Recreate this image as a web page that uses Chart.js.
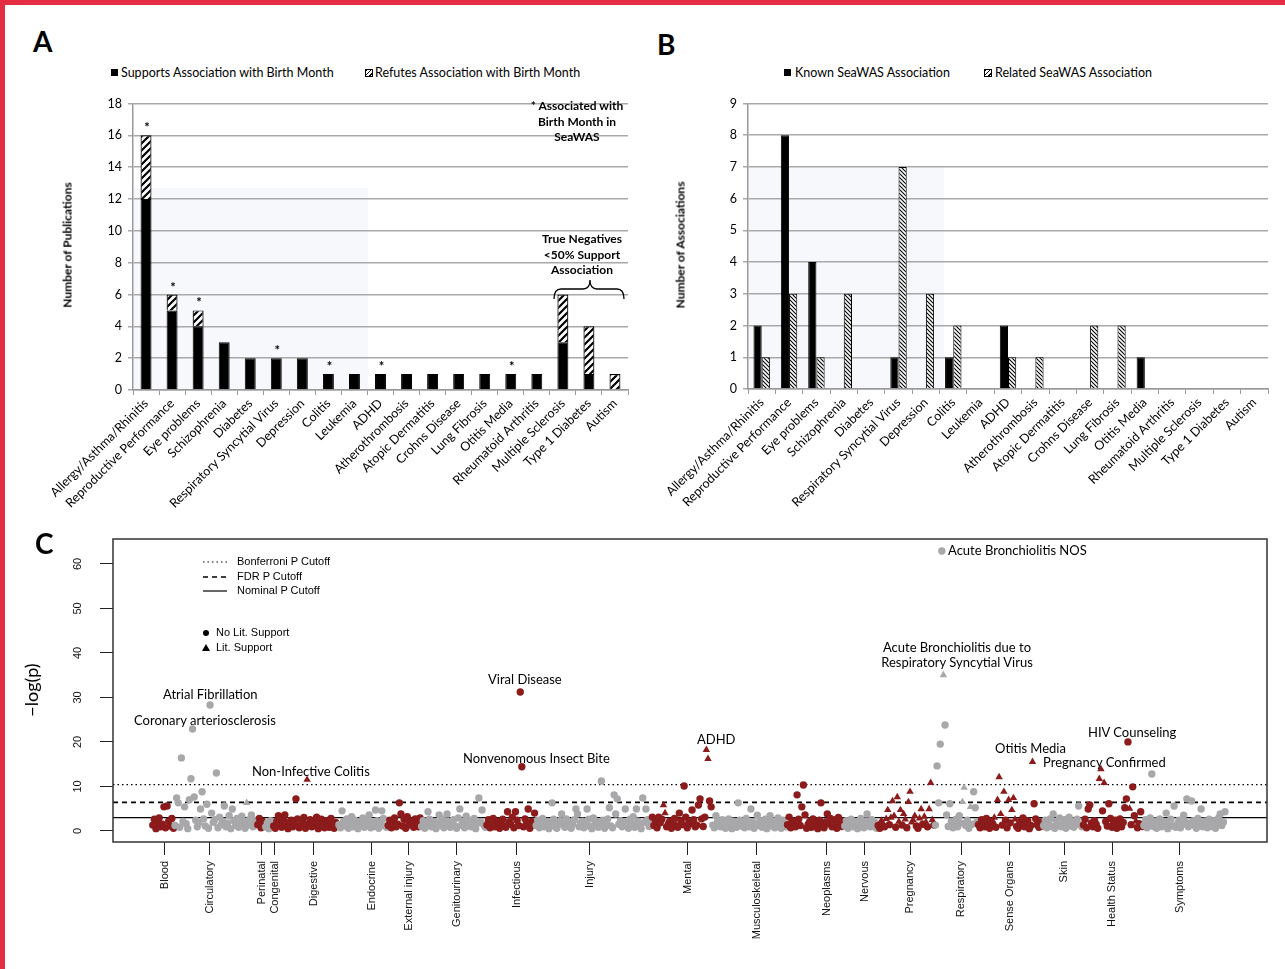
<!DOCTYPE html>
<html>
<head>
<meta charset="utf-8">
<script src="https://cdn.jsdelivr.net/npm/chart.js@4.4.1/dist/chart.umd.min.js"></script>
<style>
body { margin: 0; background: #fff; }
#page { position: relative; width: 1285px; height: 969px; overflow: hidden; background: #fff; font-family: Lato, sans-serif; }
.edgeTop { position: absolute; left: 0; top: 0; width: 1285px; height: 5px; background: #e42c42; }
.edgeLeft { position: absolute; left: 0; top: 0; width: 5px; height: 969px; background: #e42c42; }
canvas { position: absolute; }
.t { position: absolute; white-space: nowrap; color: #000; }
.tint { position: absolute; background: #f7f8fc; }
.panel { font: bold 28px Lato, sans-serif; line-height: 28px; }
.leg { font: 12.5px Lato, sans-serif; line-height: 14px; }
.sq { position: absolute; width: 7px; height: 7px; background: #000; }
.hq { position: absolute; width: 6px; height: 6px; border: 1px solid #000;
      background: repeating-linear-gradient(135deg, #000 0 1.2px, #fff 1.2px 3px); }
.ytitle { font: bold 12px Lato, sans-serif; transform: translate(-50%, -50%) rotate(-90deg); }
.note { font: bold 12px Lato, sans-serif; line-height: 15.5px; text-align: center; transform: translateX(-50%); }
.ann { font: 13px Lato, sans-serif; line-height: 15px; }
.cleg { font: 11px "Liberation Sans", Arial, sans-serif; line-height: 13px; }
</style>
</head>
<body>
<div id="page">
  <div class="edgeTop"></div>
  <div class="edgeLeft"></div>

  <!-- faint tint behind the excel plots -->
  <div class="tint" style="left:134px;top:188px;width:234px;height:202px"></div>
  <div class="tint" style="left:749px;top:167px;width:195px;height:222px"></div>

  <canvas id="chartA" width="620" height="430" style="left:20px;top:90px"></canvas>
  <canvas id="chartB" width="640" height="430" style="left:640px;top:90px"></canvas>
  <canvas id="chartC" width="1260" height="444" style="left:20px;top:525px"></canvas>

  <div class="t panel" style="left:33px;top:27px">A</div>
  <div class="t panel" style="left:657px;top:30px">B</div>
  <div class="t panel" style="left:35px;top:529px">C</div>

  <!-- legend A -->
  <div class="sq" style="left:111px;top:69px"></div>
  <div class="t leg" style="left:121px;top:66px">Supports Association with Birth Month</div>
  <div class="hq" style="left:365px;top:69px"></div>
  <div class="t leg" style="left:375px;top:66px">Refutes Association with Birth Month</div>

  <!-- legend B -->
  <div class="sq" style="left:784px;top:69px"></div>
  <div class="t leg" style="left:795px;top:66px">Known SeaWAS Association</div>
  <div class="hq" style="left:984px;top:69px"></div>
  <div class="t leg" style="left:995px;top:66px">Related SeaWAS Association</div>

  <div class="t ytitle" style="left:67px;top:245px">Number of Publications</div>
  <div class="t ytitle" style="left:680px;top:245px">Number of Associations</div>

  <div class="t note" style="left:577px;top:98px">* Associated with<br>Birth Month in<br>SeaWAS</div>
  <div class="t note" style="left:582px;top:231px">True Negatives<br>&lt;50% Support<br>Association</div>
  <svg style="position:absolute;left:0;top:0" width="1285" height="969">
    <path d="M554,299 Q554,289 561,289 L583,289 Q590,289 590,280 Q590,289 597,289 L617,289 Q624,289 624,299"
          fill="none" stroke="#000" stroke-width="1.3"/>
    <!-- panel C legend keys -->
    <line x1="203" y1="562" x2="227" y2="562" stroke="#000" stroke-width="1.2" stroke-dasharray="1.5 3"/>
    <line x1="203" y1="577" x2="227" y2="577" stroke="#000" stroke-width="1.5" stroke-dasharray="5 4"/>
    <line x1="203" y1="591" x2="227" y2="591" stroke="#000" stroke-width="1.2"/>
    <circle cx="206" cy="633" r="3" fill="#000"/>
    <polygon points="206,644 210,651 202,651" fill="#000"/>
  </svg>
  <div class="t cleg" style="left:237px;top:555px">Bonferroni P Cutoff</div>
  <div class="t cleg" style="left:237px;top:570px">FDR P Cutoff</div>
  <div class="t cleg" style="left:237px;top:584px">Nominal P Cutoff</div>
  <div class="t cleg" style="left:216px;top:626px">No Lit. Support</div>
  <div class="t cleg" style="left:216px;top:641px">Lit. Support</div>

  <div class="t" style="left:31px;top:690px;font:18px Lato,sans-serif;transform:translate(-50%,-50%) rotate(-90deg)">−log(p)</div>

  <div class="t ann" style="left:948px;top:543px">Acute Bronchiolitis NOS</div>
  <div class="t ann" style="left:957px;top:640px;text-align:center;transform:translateX(-50%)">Acute Bronchiolitis due to<br>Respiratory Syncytial Virus</div>
  <div class="t ann" style="left:163px;top:687px">Atrial Fibrillation</div>
  <div class="t ann" style="left:134px;top:713px">Coronary arteriosclerosis</div>
  <div class="t ann" style="left:252px;top:764px">Non-Infective Colitis</div>
  <div class="t ann" style="left:488px;top:672px">Viral Disease</div>
  <div class="t ann" style="left:463px;top:751px">Nonvenomous Insect Bite</div>
  <div class="t ann" style="left:697px;top:732px">ADHD</div>
  <div class="t ann" style="left:995px;top:741px">Otitis Media</div>
  <div class="t ann" style="left:1043px;top:755px">Pregnancy Confirmed</div>
  <div class="t ann" style="left:1088px;top:725px">HIV Counseling</div>
</div>

<script>
// ---------- panel A / B data ----------
const diseases = ['Allergy/Asthma/Rhinitis', 'Reproductive Performance', 'Eye problems', 'Schizophrenia',
  'Diabetes', 'Respiratory Syncytial Virus', 'Depression', 'Colitis', 'Leukemia', 'ADHD',
  'Atherothrombosis', 'Atopic Dermatitis', 'Crohns Disease', 'Lung Fibrosis', 'Otitis Media',
  'Rheumatoid Arthritis', 'Multiple Sclerosis', 'Type 1 Diabetes', 'Autism'];
const supportsA = [12, 5, 4, 3, 2, 2, 2, 1, 1, 1, 1, 1, 1, 1, 1, 1, 3, 1, 0];
const refutesA  = [4, 1, 1, 0, 0, 0, 0, 0, 0, 0, 0, 0, 0, 0, 0, 0, 3, 3, 1];
const starsA    = [1, 1, 1, 0, 0, 1, 0, 1, 0, 1, 0, 0, 0, 0, 1, 0, 0, 0, 0];
const knownB    = [2, 8, 4, 0, 0, 1, 0, 1, 0, 2, 0, 0, 0, 0, 1, 0, 0, 0, 0];
const relatedB  = [1, 3, 1, 3, 0, 7, 3, 2, 0, 1, 1, 0, 2, 2, 0, 0, 0, 0, 0];

// ---------- panel C data (-log p per phenotype, in plot order) ----------
const catC = ['Blood', 'Circulatory', 'Perinatal', 'Congenital', 'Digestive', 'Endocrine', 'External injury',
  'Genitourinary', 'Infectious', 'Injury', 'Mental', 'Musculoskeletal', 'Neoplasms', 'Nervous',
  'Pregnancy', 'Respiratory', 'Sense Organs', 'Skin', 'Health Status', 'Symptoms'];
// where each category label sits along the phenotype index axis
const tickPosC = [7.5, 35.8, 68.5, 76.7, 101.2, 137.7, 160.9, 191.1, 228.9, 274.8, 336.4, 379.8, 423.8,
  447.7, 476.0, 508.1, 538.8, 572.8, 603.0, 645.7];

const pBlood = [1.3, 2.6, 0.5, 1.8, 2.9, 0.9, 1.5, 5.4, 0.7, 5.6, 2.2, 1.1, 2.8, 0.6];
const pCirculatory = [1.2, 7.4, 6.3, 0.8, 16.4, 2.1, 5.4, 1.6, 0.5, 7.0, 11.7, 22.9, 7.6, 2.4, 0.9, 1.8,
  4.9, 8.8, 2.7, 1.1, 6.0, 0.6, 28.3, 4.0, 1.9, 2.5, 13.0, 0.7, 3.1, 1.4, 2.2, 5.6, 0.9, 1.7, 3.4, 0.5,
  4.9, 2.3, 1.2, 2.8, 0.8, 1.5, 3.3, 2.0, 0.6, 6.3, 1.3, 2.6, 3.6, 0.9, 1.8, 2.4];
const pPerinatal = [1.4, 2.8, 0.7, 2.1, 1.0];
const pCongenital = [0.9, 1.8, 0.5, 2.3, 1.2];
const pDigestive = [1.1, 0.6, 2.2, 3.4, 1.5, 0.8, 2.6, 3.6, 1.9, 0.5, 1.3, 2.4, 0.9, 1.7, 7.2, 2.7, 0.7,
  1.2, 2.0, 3.0, 0.6, 11.5, 1.6, 2.5, 0.9, 1.4, 2.1, 3.1, 0.5, 1.8, 2.6, 1.0, 0.7, 2.3, 1.5, 0.8, 2.8,
  1.2, 0.6, 1.9, 1.3];
const pEndocrine = [1.4, 0.7, 4.5, 2.2, 1.1, 2.7, 0.6, 1.8, 3.2, 0.9, 2.4, 1.3, 0.5, 2.0, 1.6, 2.9, 0.8,
  1.2, 2.5, 3.6, 0.7, 1.9, 1.0, 4.7, 2.3, 0.6, 1.5, 4.5, 2.8, 1.1, 0.8];
const pExternal = [1.2, 2.4, 0.7, 1.8, 2.9, 0.9, 1.5, 6.3, 3.8, 1.1, 2.6, 0.6, 3.2, 1.9, 1.3, 2.2, 0.8,
  2.7, 1.6, 0.9, 2.9];
const pGenitourinary = [1.0, 2.3, 0.6, 1.7, 4.3, 2.6, 0.9, 1.4, 2.1, 0.5, 1.8, 3.6, 1.2, 2.7, 0.7, 1.5,
  3.8, 2.2, 0.8, 1.9, 2.5, 1.1, 0.6, 2.9, 4.9, 1.3, 2.0, 0.7, 3.3, 1.6, 2.4, 0.9, 1.2, 2.8, 0.5, 1.7,
  7.4, 2.1, 4.7, 1.4, 0.8];
const pInfectious = [1.3, 2.5, 0.7, 1.9, 2.8, 0.9, 1.4, 2.2, 0.6, 1.7, 2.6, 1.1, 0.8, 4.3, 2.0, 1.5, 3.1,
  0.7, 4.3, 2.4, 1.2, 31.2, 14.4, 0.9, 2.7, 1.6, 4.9, 0.6, 2.1, 1.3, 4.0];
const pInjury = [1.2, 2.4, 0.7, 1.6, 2.8, 0.9, 1.3, 2.1, 0.5, 1.8, 6.3, 2.6, 1.0, 0.6, 1.9, 2.3, 3.8,
  1.4, 0.8, 2.7, 1.1, 2.0, 0.6, 1.5, 2.5, 4.9, 3.8, 0.9, 1.7, 2.2, 0.7, 1.3, 4.9, 2.6, 1.0, 0.5, 2.9,
  1.6, 2.1, 0.8, 1.4, 11.2, 2.4, 0.6, 1.8, 2.7, 5.2, 1.1, 0.7, 8.1, 3.8, 7.2, 1.5, 2.3, 0.9, 2.0, 4.9,
  1.2, 0.6, 2.6, 1.7, 3.2, 0.8, 4.9, 2.2, 1.4, 0.5, 7.4, 1.9, 4.9, 2.5, 1.0, 1.6];
const pMental = [3.1, 1.2, 2.4, 0.7, 3.1, 1.8, 2.6, 5.8, 4.0, 0.9, 1.5, 2.2, 0.6, 1.9, 2.8, 1.1, 0.8,
  4.0, 2.3, 1.4, 10.1, 3.1, 0.7, 2.0, 1.6, 4.7, 2.5, 0.9, 1.3, 5.8, 7.2, 2.7, 1.0, 3.1, 18.2, 16.2,
  6.7, 5.4];
const pMusculoskeletal = [1.3, 0.7, 3.4, 2.1, 1.6, 0.9, 2.5, 1.2, 0.6, 1.8, 2.7, 1.0, 0.5, 2.2, 1.5,
  0.8, 6.3, 2.4, 1.1, 1.9, 0.7, 2.8, 1.4, 0.9, 4.9, 2.0, 0.6, 1.7, 3.5, 1.2, 2.3, 0.8, 1.5, 2.6, 0.5,
  1.9, 3.4, 1.1, 2.2, 0.7, 1.6, 2.9, 1.0, 0.6, 2.4, 1.3, 0.9];
const pNeoplasms = [1.4, 3.1, 0.7, 2.3, 1.8, 0.9, 8.1, 2.6, 1.2, 5.4, 10.3, 3.6, 0.6, 1.5, 2.1, 0.8,
  2.7, 1.1, 1.9, 0.5, 2.4, 6.3, 1.3, 0.7, 2.0, 3.8, 1.6, 2.8, 0.9, 1.2, 2.5, 0.6, 3.0, 1.7, 1.0, 2.2];
const pNervous = [1.1, 2.3, 0.6, 1.7, 2.6, 0.9, 1.4, 2.0, 0.5, 1.8, 2.8, 1.2, 0.7, 2.2, 3.8, 1.5, 0.9,
  2.5, 1.0, 1.9, 0.6];
const pPregnancy = [1.2, 0.6, 2.3, 1.7, 0.9, 2.7, 4.7, 1.4, 3.0, 6.7, 3.4, 0.8, 7.6, 2.1, 4.7, 1.3, 3.8,
  2.6, 0.7, 6.5, 8.8, 1.9, 2.4, 3.4, 1.1, 0.6, 2.8, 4.9, 1.5, 3.2, 2.0, 0.9, 4.9, 10.8, 2.5, 1.3];
const pRespiratory = [1.3, 14.6, 6.3, 19.5, 62.9, 35.0, 23.8, 3.6, 1.0, 6.1, 2.2, 0.7, 1.6, 2.6, 0.9,
  3.4, 1.8, 6.5, 9.7, 1.2, 2.4, 0.6, 5.4, 1.5, 8.8, 5.2, 2.0];
const pSense = [1.4, 0.7, 2.5, 1.9, 0.9, 2.8, 1.2, 0.6, 2.2, 1.6, 3.0, 0.8, 7.0, 12.1, 3.8, 1.3, 8.8,
  2.4, 0.7, 7.0, 1.8, 4.7, 7.4, 2.6, 1.0, 0.6, 2.1, 1.5, 2.9, 0.9, 1.7, 2.3, 0.5, 1.2, 15.5, 6.1, 2.7,
  1.4, 0.8, 2.0, 1.1];
const pSkin = [1.2, 2.4, 0.7, 1.8, 2.7, 1.0, 3.8, 0.6, 2.1, 1.5, 2.9, 0.9, 1.3, 2.5, 0.6, 1.9, 3.1, 1.1,
  2.2, 0.8, 1.6, 2.6, 5.6, 1.4, 0.9];
const pHealth = [1.3, 2.6, 0.7, 4.9, 5.8, 1.8, 0.9, 2.3, 1.5, 0.6, 11.7, 13.9, 4.5, 10.8, 2.1, 1.1, 6.1,
  2.8, 0.8, 1.7, 2.4, 0.6, 1.3, 2.7, 0.9, 1.9, 5.2, 7.2, 20.0, 5.0, 1.4, 9.9, 3.4, 2.2, 0.7, 1.6, 4.3, 1.0];
const pSymptoms = [1.2, 2.5, 0.7, 1.8, 2.9, 12.8, 1.0, 2.2, 0.6, 1.6, 2.7, 0.9, 1.4, 2.1, 4.0, 0.5, 1.9,
  2.6, 1.1, 5.6, 0.8, 1.5, 2.4, 0.7, 1.3, 3.5, 2.0, 7.2, 0.9, 1.7, 6.7, 2.3, 1.2, 0.6, 2.8, 1.5, 4.9,
  0.9, 2.2, 1.4, 0.7, 2.6, 1.8, 1.0, 2.3, 0.6, 1.6, 2.9, 3.8, 1.2, 2.0, 4.3];

// points with literature support (drawn as triangles): index within category
const litSupport = {
  'Circulatory': [45],
  'Digestive': [21],
  'Mental': [7, 8, 34, 35],
  'Pregnancy': [2, 3, 5, 6, 8, 9, 10, 12, 13, 14, 16, 17, 19, 20, 21, 22, 23, 26, 27, 29, 30, 32, 33, 34],
  'Respiratory': [5, 17, 18, 22],
  'Sense Organs': [10, 12, 13, 14, 16, 19, 21, 22, 23, 34],
  'Health Status': [10, 11, 13, 29, 33]
};
const cutoffNames = ['Bonferroni', 'FDR', 'Nominal'];
const cutoffValues = [10.4, 6.4, 3.0];
const yTicksC = [0, 10, 20, 30, 40, 50, 60];

const valsC = [pBlood, pCirculatory, pPerinatal, pCongenital, pDigestive, pEndocrine, pExternal,
  pGenitourinary, pInfectious, pInjury, pMental, pMusculoskeletal, pNeoplasms, pNervous, pPregnancy,
  pRespiratory, pSense, pSkin, pHealth, pSymptoms];

Chart.defaults.font.family = 'Lato, sans-serif';
Chart.defaults.color = '#000';

function hatch(size, lw, back) {
  const c = document.createElement('canvas');
  c.width = size; c.height = size;
  const g = c.getContext('2d');
  g.fillStyle = '#fff';
  g.fillRect(0, 0, size, size);
  g.strokeStyle = '#000';
  g.lineWidth = lw;
  g.beginPath();
  if (back) {
    g.moveTo(0, 0); g.lineTo(size, size);
    g.moveTo(-size, 0); g.lineTo(size, size * 2);
    g.moveTo(0, -size); g.lineTo(size * 2, size);
  } else {
    g.moveTo(0, size); g.lineTo(size, 0);
    g.moveTo(-size, size); g.lineTo(size, -size);
    g.moveTo(0, size * 2); g.lineTo(size * 2, 0);
  }
  g.stroke();
  return g.createPattern(c, 'repeat');
}
const hatchA = hatch(7, 2.2, false);
const hatchB = hatch(4, 1.1, true);

const starPlugin = {
  id: 'stars',
  afterDatasetsDraw(chart) {
    const { ctx, scales: { x, y } } = chart;
    ctx.save();
    ctx.font = 'bold 13px Lato';
    ctx.fillStyle = '#000';
    ctx.textAlign = 'center';
    starsA.forEach((s, i) => {
      if (!s) return;
      const top = y.getPixelForValue(supportsA[i] + refutesA[i]);
      ctx.fillText('*', x.getPixelForValue(i) + 1, top - 3);
    });
    ctx.restore();
  }
};

// ---------- A ----------
new Chart(document.getElementById('chartA'), {
  type: 'bar',
  data: {
    labels: diseases,
    datasets: [
      { label: 'Supports Association with Birth Month', data: supportsA.map(v => v || null),
        backgroundColor: '#000', borderColor: '#000', borderWidth: 1 },
      { label: 'Refutes Association with Birth Month', data: refutesA.map(v => v || null),
        backgroundColor: hatchA, borderColor: '#000', borderWidth: 1.2 }
    ]
  },
  options: {
    responsive: false, animation: false,
    layout: { padding: { top: 10, right: 12, left: 0, bottom: 0 } },
    plugins: { legend: { display: false }, tooltip: { enabled: false } },
    datasets: { bar: { barPercentage: 0.84, categoryPercentage: 0.5 } },
    scales: {
      x: {
        stacked: true,
        afterFit: s => { s.height = 130; },
        grid: { drawOnChartArea: false, offset: true, tickLength: 5, color: '#999' },
        border: { color: '#999', width: 1.5 },
        ticks: { minRotation: 45, maxRotation: 45, autoSkip: false, padding: 1, font: { size: 12.6 } }
      },
      y: {
        stacked: true, min: 0, max: 18,
        afterFit: s => { s.width = 113; },
        ticks: { stepSize: 2, padding: 6, font: { size: 12.5 } },
        grid: { color: '#a9a9a9', lineWidth: 1.5, tickLength: 5 },
        border: { color: '#999', width: 1.5 }
      }
    }
  },
  plugins: [starPlugin]
});

// ---------- B ----------
new Chart(document.getElementById('chartB'), {
  type: 'bar',
  data: {
    labels: diseases,
    datasets: [
      { label: 'Known SeaWAS Association', data: knownB.map(v => v || null),
        backgroundColor: '#000', borderColor: '#000', borderWidth: 1 },
      { label: 'Related SeaWAS Association', data: relatedB.map(v => v || null),
        backgroundColor: hatchB, borderColor: '#000', borderWidth: 1 }
    ]
  },
  options: {
    responsive: false, animation: false,
    layout: { padding: { top: 12, right: 12, left: 0, bottom: 0 } },
    plugins: { legend: { display: false }, tooltip: { enabled: false } },
    datasets: { bar: { barPercentage: 1, categoryPercentage: 0.6 } },
    scales: {
      x: {
        afterFit: s => { s.height = 131; },
        grid: { drawOnChartArea: false, offset: true, tickLength: 5, color: '#999' },
        border: { color: '#999', width: 1.5 },
        ticks: { minRotation: 45, maxRotation: 45, autoSkip: false, padding: 1, font: { size: 12.6 } }
      },
      y: {
        min: 0, max: 9,
        afterFit: s => { s.width = 108; },
        ticks: { stepSize: 1, padding: 6, font: { size: 12.5 } },
        grid: { color: '#a9a9a9', lineWidth: 1.5, tickLength: 5 },
        border: { color: '#999', width: 1.5 }
      }
    }
  }
});

// ---------- C ----------
const ptsC = [], colC = [], styleC = [], radC = [];
let k = 0;
valsC.forEach((vals, ci) => {
  const lit = litSupport[catC[ci]] || [];
  vals.forEach((v, j) => {
    ptsC.push({ x: k, y: v });
    colC.push(ci % 2 === 0 ? '#8c1b1b' : '#a8a8ab');
    const tri = lit.includes(j);
    styleC.push(tri ? 'triangle' : 'circle');
    radC.push(tri ? 4.3 : 3.7);
    k++;
  });
});
const xMinC = -25, xMaxC = k - 1 + 26.4;
const dashes = [[1.5, 3], [5, 4], []];
const widths = [1.2, 1.6, 1.2];

const boxPlugin = {
  id: 'box',
  afterDraw(chart) {
    const { ctx, chartArea: a, scales: { y } } = chart;
    ctx.save();
    ctx.strokeStyle = '#333';
    ctx.lineWidth = 1.5;
    ctx.strokeRect(a.left, a.top, a.right - a.left, a.bottom - a.top);
    ctx.fillStyle = '#111';
    ctx.font = '11px "Liberation Sans", Arial';
    ctx.textAlign = 'center';
    ctx.textBaseline = 'middle';
    yTicksC.forEach(v => {
      ctx.save();
      ctx.translate(a.left - 35, y.getPixelForValue(v));
      ctx.rotate(-Math.PI / 2);
      ctx.fillText(String(v), 0, 0);
      ctx.restore();
    });
    ctx.restore();
  }
};

new Chart(document.getElementById('chartC'), {
  type: 'scatter',
  data: {
    datasets: [
      { label: 'phenotypes', data: ptsC, backgroundColor: colC, pointStyle: styleC,
        pointRadius: radC, borderWidth: 0 }
    ].concat(cutoffValues.map((v, i) => ({
      label: cutoffNames[i], data: [{ x: xMinC, y: v }, { x: xMaxC, y: v }],
      showLine: true, pointRadius: 0, borderColor: '#000', borderWidth: widths[i], borderDash: dashes[i]
    })))
  },
  options: {
    responsive: false, animation: false,
    layout: { padding: { top: 14, right: 13, left: 0, bottom: 0 } },
    plugins: { legend: { display: false }, tooltip: { enabled: false } },
    scales: {
      x: {
        type: 'linear', min: xMinC, max: xMaxC,
        afterBuildTicks: s => { s.ticks = tickPosC.map(v => ({ value: v })); },
        afterFit: s => { s.height = 127; },
        grid: { drawOnChartArea: false, tickLength: 13, color: '#222' },
        border: { display: false },
        ticks: { autoSkip: false, minRotation: 90, maxRotation: 90, padding: 6, color: '#111',
          font: { family: '"Liberation Sans", Arial', size: 11 },
          callback: (v, i) => catC[i] }
      },
      y: {
        min: -2.5, max: 65.6,
        afterBuildTicks: s => { s.ticks = yTicksC.map(v => ({ value: v })); },
        afterFit: s => { s.width = 93; },
        grid: { drawOnChartArea: false, tickLength: 13, color: '#222' },
        border: { display: false },
        ticks: { display: false }
      }
    }
  },
  plugins: [boxPlugin]
});
</script>
</body>
</html>
